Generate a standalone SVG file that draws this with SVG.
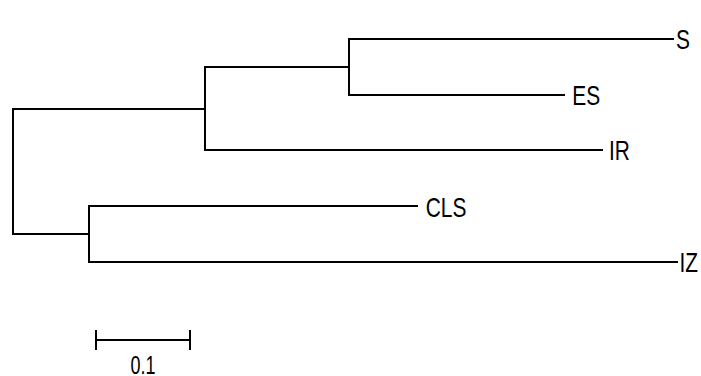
<svg xmlns="http://www.w3.org/2000/svg" width="701" height="376" viewBox="0 0 701 376">
<style>
.br{fill:none;stroke:#000;stroke-width:2;stroke-linecap:square}
.lb{font-family:"Liberation Sans",Arial,sans-serif;font-size:27.5px;fill:#000}
.sc{font-family:"Liberation Sans",Arial,sans-serif;font-size:25px;fill:#000}
</style>
<rect width="701" height="376" fill="#fff"/>
<g id="connectors">
<path class="br" d="M13,109 V234 M13,109 H205 M13,234 H89"/>
<path class="br" d="M205,67 V150 M205,67 H349 M205,150 H602"/>
<path class="br" d="M349,39 V95 M349,39 H673 M349,95 H564"/>
<path class="br" d="M89,206 V262 M89,206 H417 M89,262 H677"/>
</g>
<g id="S"><text class="lb" transform="translate(676,49) scale(0.76,1)">S</text></g>
<g id="ES"><text class="lb" transform="translate(572.3,104.5) scale(0.76,1)">ES</text></g>
<g id="IR"><text class="lb" transform="translate(609,160) scale(0.76,1)">IR</text></g>
<g id="CLS"><text class="lb" transform="translate(425.7,216.5) scale(0.76,1)">CLS</text></g>
<g id="IZ"><text class="lb" transform="translate(679.5,272) scale(0.76,1)">IZ</text></g>
<g id="scale">
<path class="br" d="M96,340 H190 M96,331 V349 M190,331 V349"/>
<text class="sc" text-anchor="middle" transform="translate(143,374) scale(0.72,1)">0.1</text>
</g>
</svg>
